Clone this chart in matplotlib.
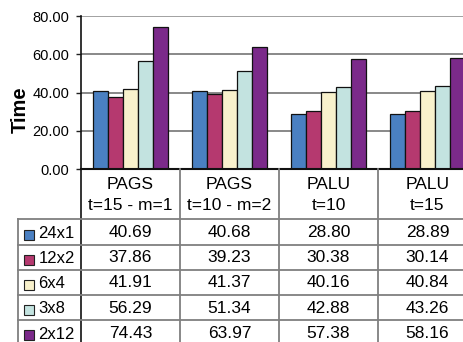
import matplotlib
matplotlib.use("Agg")
import matplotlib.pyplot as plt
from matplotlib.patches import Rectangle
import numpy as np

plt.rcParams['font.family'] = ['Liberation Sans', 'DejaVu Sans']

# Data
categories = [("PAGS", "t=15 - m=1"), ("PAGS", "t=10 - m=2"), ("PALU", "t=10"), ("PALU", "t=15")]
series_names = ["24x1", "12x2", "6x4", "3x8", "2x12"]
series_values = {
    "24x1": [40.69, 40.68, 28.80, 28.89],
    "12x2": [37.86, 39.23, 30.38, 30.14],
    "6x4":  [41.91, 41.37, 40.16, 40.84],
    "3x8":  [56.29, 51.34, 42.88, 43.26],
    "2x12": [74.43, 63.97, 57.38, 58.16],
}
colors = ["#4A80C2", "#B5396F", "#F8F1CC", "#C3E3E0", "#7B2A8A"]
yticks = [0, 20, 40, 60, 80]

W, H = 464, 342
fig = plt.figure(figsize=(W / 100, H / 100), dpi=100)

def frac_x(px):
    return px / W

def frac_y(py):
    return 1 - py / H

# Layout in pixels
ax_left, ax_right = 81, 477
ax_top, ax_bottom = 16, 169
row_h = 25.2
tbl_bottom = ax_bottom + 7 * row_h

ax = fig.add_axes([frac_x(ax_left), frac_y(ax_bottom),
                   frac_x(ax_right - ax_left), (ax_bottom - ax_top) / H])
n_cat = len(categories)
n_ser = len(series_names)
gap = 0.118
bw = (1 - 2 * gap) / n_ser
grid_col = "#7F7F7F"

ax.set_xlim(0, n_cat)
ax.set_ylim(0, 80)
for y in yticks[1:]:
    ax.axhline(y, color=("#9A9A9A" if y == 80 else grid_col), lw=1.3, zorder=0)

x0 = np.arange(n_cat)
for j, name in enumerate(series_names):
    ax.bar(x0 + gap + j * bw, series_values[name], width=bw, align="edge",
           color=colors[j], edgecolor="#111111", linewidth=0.9, zorder=2)

ax.set_yticks(yticks)
ax.set_yticklabels([f"{v:.2f}" for v in yticks], fontsize=10.5)
ax.tick_params(axis="y", direction="out", length=3.5, width=1, pad=5, color="#222222")
ax.set_xticks([])
for s in ["top", "right"]:
    ax.spines[s].set_visible(False)
ax.spines["left"].set_linewidth(1.2)
ax.spines["bottom"].set_linewidth(1.5)
ax.spines["left"].set_color("#111111")
ax.spines["bottom"].set_color("#111111")
ax.patch.set_alpha(0)

fig.text(frac_x(20), frac_y(110), "Time", rotation=90, fontsize=14.5, fontweight="bold",
         ha="center", va="center")

# Data table beneath the plot, sharing the category positions
tax = fig.add_axes([frac_x(ax_left), frac_y(tbl_bottom),
                    frac_x(ax_right - ax_left), (tbl_bottom - ax_bottom) / H])
tax.set_xlim(0, n_cat)
tax.set_ylim(7, 0)
tax.axis("off")

leg_left = (18 - ax_left) / (ax_right - ax_left) * n_cat
line_kw = dict(color=grid_col, lw=1.3, clip_on=False)

for i in range(1, n_cat + 1):
    tax.plot([i, i], [0, 7], **line_kw)
tax.plot([0, 0], [0, 7], color="#111111", lw=1.2, clip_on=False)
tax.plot([leg_left, leg_left], [2, 7], **line_kw)
for r in range(2, 8):
    tax.plot([leg_left, n_cat], [r, r], **line_kw)

for i, (top, bottom) in enumerate(categories):
    tax.text(i + 0.5, 0.6, top, ha="center", va="center", fontsize=12.5)
    tax.text(i + 0.5, 1.43, bottom, ha="center", va="center", fontsize=12.5)

sq_w = 10 / (ax_right - ax_left) * n_cat
sq_h = 10 / row_h
sq_x = (24 - ax_left) / (ax_right - ax_left) * n_cat
lbl_x = (38.5 - ax_left) / (ax_right - ax_left) * n_cat
for j, name in enumerate(series_names):
    yc = 2.5 + j
    tax.add_patch(Rectangle((sq_x, yc - sq_h / 2 + 0.1), sq_w, sq_h, facecolor=colors[j],
                            edgecolor="#222222", lw=0.8, clip_on=False))
    tax.text(lbl_x, yc + 0.05, name, ha="left", va="center", fontsize=12)
    for i, v in enumerate(series_values[name]):
        tax.text(i + 0.5, yc + 0.02, f"{v:.2f}", ha="center", va="center", fontsize=12.5)

fig.savefig("out.png", dpi=100)
